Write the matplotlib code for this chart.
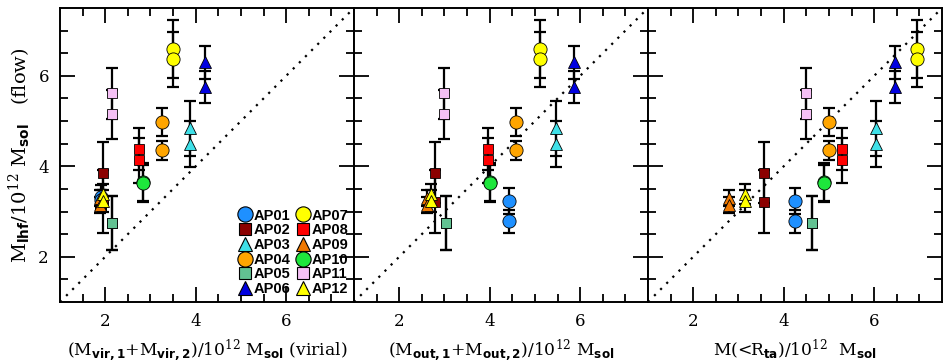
import matplotlib
matplotlib.use("Agg")
import matplotlib.pyplot as plt
from matplotlib.lines import Line2D
import numpy as np

plt.rcParams['mathtext.fontset'] = 'custom'
plt.rcParams['mathtext.rm'] = 'DejaVu Serif'
plt.rcParams['mathtext.it'] = 'DejaVu Serif:italic'
plt.rcParams['mathtext.bf'] = 'DejaVu Sans:bold'

names = ['AP01', 'AP02', 'AP03', 'AP04', 'AP05', 'AP06',
         'AP07', 'AP08', 'AP09', 'AP10', 'AP11', 'AP12']
markers = ['o', 's', '^', 'o', 's', '^', 'o', 's', '^', 'o', 's', '^']
colors = ['#1E90FF', '#8B0000', '#3FE0E8', '#FFA500', '#62C292', '#0000E0',
          '#FFFF00', '#FF0000', '#F07800', '#1EE63C', '#F5C0F5', '#FFFF00']

# flow masses (two estimates per pair) and symmetric errors
m_flow_a = [3.23, 3.86, 4.84, 4.99, 2.75, 6.30, 6.60, 4.38, 3.30, 3.65, 5.61, 3.38]
m_flow_b = [2.78, 3.22, 4.49, 4.35, 2.75, 5.76, 6.37, 4.13, 3.15, 3.63, 5.15, 3.24]
err_a = [0.29, 0.67, 0.61, 0.31, 0.59, 0.37, 0.64, 0.46, 0.17, 0.43, 0.56, 0.22]
err_b = [0.25, 0.69, 0.51, 0.22, 0.59, 0.35, 0.61, 0.49, 0.18, 0.40, 0.54, 0.24]

# in the virial panel the AP01 pair sits hidden behind the AP12 triangles
ap01_flow_virial = [3.33, 3.26]
ap01_err_virial = [0.25, 0.22]

# x-values for each panel
m_virial = [1.90, 1.96, 3.88, 3.26, 2.14, 4.20, 3.50, 2.75, 1.88, 2.83, 2.14, 1.94]
m_out = [4.43, 2.78, 5.47, 4.59, 3.03, 5.87, 5.11, 3.96, 2.62, 4.00, 2.98, 2.70]
m_rta = [4.25, 3.56, 6.04, 5.00, 4.62, 6.46, 6.94, 5.28, 2.80, 4.89, 4.50, 3.14]

xlabels = [
    '(M$_{\\mathbf{vir,1}}$+M$_{\\mathbf{vir,2}}$)/10$^{12}$ M$_{\\mathbf{sol}}$ (virial)',
    '(M$_{\\mathbf{out,1}}$+M$_{\\mathbf{out,2}}$)/10$^{12}$ M$_{\\mathbf{sol}}$',
    'M(<R$_{\\mathbf{ta}}$)/10$^{12}$  M$_{\\mathbf{sol}}$',
]
ylabel = 'M$_{\\mathbf{lhf}}$/10$^{12}$ M$_{\\mathbf{sol}}$   (flow)'

msize = {'o': 9.5, 's': 7.0, '^': 8.0}

fig = plt.figure(figsize=(9.48, 3.64), dpi=100)
left, right, bottom, top = 60 / 948, 942 / 948, 1 - 302 / 364, 1 - 8 / 364
w = (right - left) / 3
axes = [fig.add_axes([left + i * w, bottom, w, top - bottom]) for i in range(3)]

for i, (ax, xs) in enumerate(zip(axes, [m_virial, m_out, m_rta])):
    ax.plot([1, 7.5], [1, 7.5], color='black', lw=1.6, dashes=(1, 2.9), zorder=1)
    for k in range(len(names)):
        ya, yb, ea, eb = m_flow_a[k], m_flow_b[k], err_a[k], err_b[k]
        if i == 0 and k == 0:
            ya, yb = ap01_flow_virial
            ea, eb = ap01_err_virial
        for yv, ev in ((ya, ea), (yb, eb)):
            ax.errorbar([xs[k]], [yv], yerr=[ev], fmt='none', ecolor='black',
                        elinewidth=1.6, capsize=4, capthick=1.6, zorder=2)
        for yv in (ya, yb):
            ax.plot([xs[k]], [yv], linestyle='none', marker=markers[k],
                    markersize=msize[markers[k]], markerfacecolor=colors[k],
                    markeredgecolor='black', markeredgewidth=0.6, zorder=3)
    ax.set_xlim(1, 7.5)
    ax.set_ylim(1, 7.5)
    ax.set_xticks([2, 4, 6])
    ax.set_yticks([2, 4, 6])
    ax.set_xticks(np.arange(1.5, 7.5, 0.5), minor=True)
    ax.set_yticks(np.arange(1.5, 7.5, 0.5), minor=True)
    ax.tick_params(which='both', direction='in', top=True, right=True,
                   width=1.3, labelsize=12, pad=8)
    ax.tick_params(which='major', length=11)
    ax.tick_params(which='minor', length=5.5)
    for lab in ax.get_xticklabels() + ax.get_yticklabels():
        lab.set_fontfamily('DejaVu Serif')
    for s in ax.spines.values():
        s.set_linewidth(1.4)
    if i > 0:
        ax.tick_params(labelleft=False)
    ax.set_xlabel(xlabels[i], fontfamily='DejaVu Serif', fontsize=12.3, labelpad=5)

axes[0].set_ylabel(ylabel, fontfamily='DejaVu Serif', fontsize=14, labelpad=4)

handles = [Line2D([], [], linestyle='none', marker=markers[k],
                  markersize=msize[markers[k]] + 1.5, markerfacecolor=colors[k],
                  markeredgecolor='black', markeredgewidth=0.8)
           for k in range(len(names))]
axes[0].legend(handles, names, loc='lower right', bbox_to_anchor=(1.0, 0.0),
               ncol=2, frameon=False,
               prop={'family': 'Liberation Sans', 'weight': 'bold', 'size': 10.5},
               handlelength=0.9, handletextpad=0.15, columnspacing=0.4,
               labelspacing=0.05, borderpad=0.2, borderaxespad=0.2)

fig.savefig('out.png', dpi=100)
